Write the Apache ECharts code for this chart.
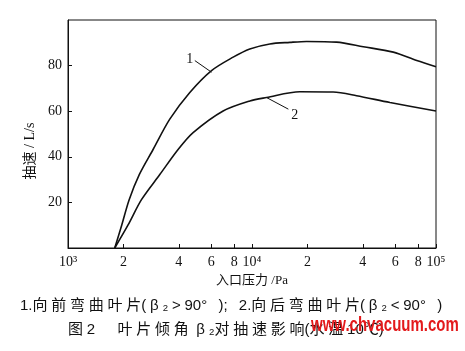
<!DOCTYPE html>
<html><head><meta charset="utf-8">
<script src="https://cdn.jsdelivr.net/npm/echarts@6/dist/echarts.min.js"></script>
<style>html,body{margin:0;padding:0;background:#fff}#c{width:465px;height:351px}</style>
</head><body><div id="c"></div>
<script>
// Data (pressure Pa, pumping speed L/s)
const curve1 = [[1795,0],[1960,10.1],[2150,21.2],[2440,32.2],[2900,43.2],[3574,56.5],[4592,68.2],[6026,77.8],[7900,83.7],[9730,87.3],[12500,89.5],[16070,90.2],[19800,90.6],[28800,90.3],[40250,88.3],[58600,85.9],[78600,82.2],[100000,79.5]];
const curve2 = [[1795,0],[2121,10.1],[2508,21.2],[3154,32.2],[3966,43.2],[4786,50.6],[6966,60.1],[9730,64.5],[11995,66.0],[18200,68.5],[27600,68.4],[37000,66.8],[56200,63.8],[100000,60.1]];
const xTickValues = [1000,2000,4000,6000,8000,10000,20000,40000,60000,80000,100000];
const xTickLabels = ['10³','2','4','6','8','10⁴','2','4','6','8','10⁵'];
const yTickValues = [20,40,60,80];
// annotation leaders (data coords) and labels
const leader1 = [[4890,82.2],[6026,77.1]];
const label1 = [4592,82.9];
const leader2 = [[11995,66.0],[15760,60.9]];
const label2 = [17100,58.2];

const serif = "'Liberation Serif','Noto Sans CJK SC'";
const sp = '\u2005';
const spaced = s => s.split('').join(sp);
const caption1 = '1.' + spaced('向前弯曲叶片') + '(' + sp + 'β' + sp + '₂' + sp + '>' + sp + '90°' + sp + sp + sp + ');' + sp + sp + sp + '2.' + spaced('向后弯曲叶片') + '(' + sp + 'β' + sp + '₂' + sp + '<' + sp + '90°' + sp + sp + sp + ')';
const caption2 = '图' + sp + '2' + sp + sp + sp + sp + sp + sp + spaced('叶片倾角') + sp + sp + 'β' + sp + '₂' + spaced('对抽速影响') + '(' + spaced('水温') + sp + '10℃)';

const chart = echarts.init(document.getElementById('c'), null, {renderer:'canvas'});
const labelMap = {};
xTickValues.forEach((v,i)=>labelMap[v]=xTickLabels[i]);

function annot(leader, label, txt){
  return {
    markLine: {silent:true, symbol:['none','none'], lineStyle:{color:'#111',width:1,type:'solid'}, label:{show:false},
      data:[[{coord:leader[0]},{coord:leader[1]}]]},
    markPoint: {silent:true, symbol:'circle', symbolSize:0,
      label:{show:true, formatter:txt, color:'#111', fontFamily:serif, fontSize:14, position:'inside'},
      data:[{coord:label}]}
  };
}

chart.setOption({
  animation:false,
  backgroundColor:'#fff',
  grid:{left:68,right:29,top:20,bottom:103,show:true,borderColor:'#111',borderWidth:1,backgroundColor:'transparent'},
  xAxis:{type:'log',min:1000,max:100000,logBase:10,
    name:'入口压力 /Pa',nameLocation:'middle',nameGap:21,
    nameTextStyle:{color:'#111',fontFamily:serif,fontSize:13},
    axisLine:{show:true,lineStyle:{color:'#111',width:1}},
    axisTick:{show:true,inside:true,length:4,lineStyle:{color:'#111'},customValues:xTickValues},
    axisLabel:{show:true,color:'#111',fontFamily:serif,fontSize:14,margin:7,customValues:xTickValues,
      formatter:v=>labelMap[Math.round(v)]||''},
    minorTick:{show:false},
    splitLine:{show:false}},
  yAxis:{type:'value',min:0,max:100,
    name:'抽速 / L/s',nameLocation:'middle',nameGap:21,
    nameTextStyle:{color:'#111',fontFamily:serif,fontSize:14,padding:[0,34,0,0]},
    axisLine:{show:true,lineStyle:{color:'#111',width:1}},
    axisTick:{show:true,inside:true,length:4,lineStyle:{color:'#111'},customValues:yTickValues},
    axisLabel:{show:true,color:'#111',fontFamily:serif,fontSize:14,margin:6,customValues:yTickValues},
    splitLine:{show:false}},
  series:[
    Object.assign({type:'line',name:'1',data:curve1,smooth:0.3,showSymbol:false,symbol:'none',
      lineStyle:{color:'#111',width:1.6}}, annot(leader1,label1,'1')),
    Object.assign({type:'line',name:'2',data:curve2,smooth:0.3,showSymbol:false,symbol:'none',
      lineStyle:{color:'#111',width:1.6}}, annot(leader2,label2,'2'))
  ],
  graphic:[
    {type:'text',x:20,top:298,style:{text:caption1,
      font:"15px 'Liberation Sans','Noto Sans CJK SC'",fill:'#111'}},
    {type:'text',x:68,top:322,style:{text:caption2,
      font:"15px 'Liberation Sans','Noto Sans CJK SC'",fill:'#111'}},
    {type:'text',x:311,y:335,scaleY:1.3,style:{text:'www.chvacuum.com',verticalAlign:'bottom',
      font:"bold 15px 'Liberation Sans'",fill:'#e3191b'}}
  ]
});
</script></body></html>
